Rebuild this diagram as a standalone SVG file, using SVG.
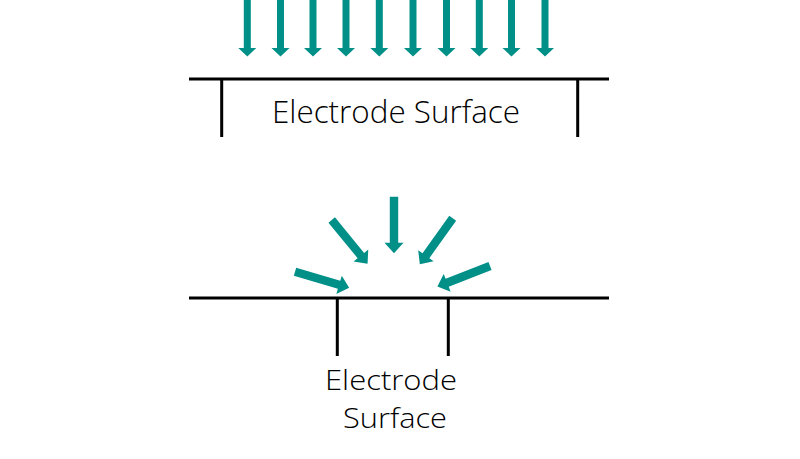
<svg xmlns="http://www.w3.org/2000/svg" width="800" height="459" viewBox="0 0 800 459">
<style>
.ln{stroke:#000;stroke-width:3;fill:none}
.ar{fill:#009088}
.lbl{font-family:"Open Sans","Liberation Sans",sans-serif;font-size:32px;font-weight:300;fill:#000;text-anchor:middle}
.lb2{font-size:27.5px}
</style>
<defs>
<path id="a1" d="M-3.5 0H3.5V48H9L0 56.5L-9 48H-3.5Z"/>
<path id="a2" d="M-4.2 0H4.2V46H9.5L0 56.5L-9.5 46H-4.2Z"/>
</defs>
<rect width="800" height="459" fill="#fff"/>
<g id="flux-top" class="ar">
<use href="#a1" x="247.3" y="0"/>
<use href="#a1" x="280.5" y="0"/>
<use href="#a1" x="313" y="0"/>
<use href="#a1" x="346" y="0"/>
<use href="#a1" x="379.3" y="0"/>
<use href="#a1" x="413" y="0"/>
<use href="#a1" x="446.5" y="0"/>
<use href="#a1" x="479.3" y="0"/>
<use href="#a1" x="511.5" y="0"/>
<use href="#a1" x="545" y="0"/>
</g>
<g id="electrode-top">
<path class="ln" d="M189 79H609M221.7 79V137M577.7 79V137"/>
<text class="lbl" x="396" y="123" textLength="248" lengthAdjust="spacingAndGlyphs">Electrode Surface</text>
</g>
<g id="flux-bottom" class="ar">
<use href="#a2" transform="translate(394 196.7)"/>
<use href="#a2" transform="translate(331.7 220) rotate(-39.4)"/>
<use href="#a2" transform="translate(452.7 218.3) rotate(35.6)"/>
<use href="#a2" transform="translate(295 271.7) rotate(-73.4)"/>
<use href="#a2" transform="translate(490 266) rotate(68.6)"/>
</g>
<g id="electrode-bottom">
<path class="ln" d="M189 298H609M337.3 298V356M448.3 298V356"/>
<text class="lbl lb2" x="391" y="390" textLength="132" lengthAdjust="spacingAndGlyphs">Electrode</text>
<text class="lbl lb2" x="395" y="428" textLength="104" lengthAdjust="spacingAndGlyphs">Surface</text>
</g>
</svg>
